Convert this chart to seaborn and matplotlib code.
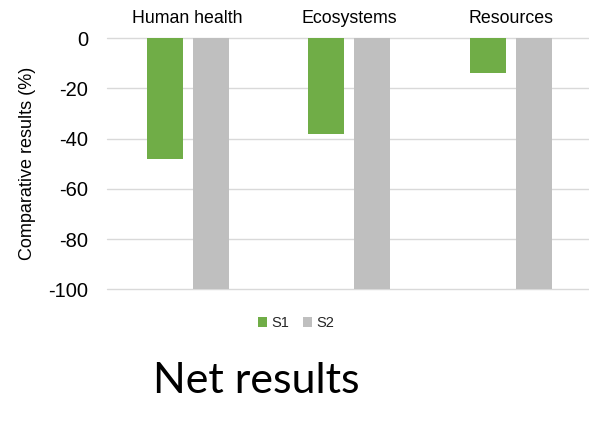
import matplotlib
matplotlib.use("Agg")
import matplotlib.pyplot as plt
from matplotlib.patches import Patch
import seaborn as sns
import pandas as pd

# Comparative impact results by endpoint category
categories = ["Human health", "Ecosystems", "Resources"]
s1_values = [-48, -38, -14]
s2_values = [-100, -100, -100]
series_names = ["S1", "S2"]
y_ticks = [0, -20, -40, -60, -80, -100]

colors = {"S1": "#70AD47", "S2": "#BFBFBF"}
grid_color = "#D9D9D9"

df = pd.DataFrame({
    "category": categories * 2,
    "series": ["S1"] * len(categories) + ["S2"] * len(categories),
    "value": s1_values + s2_values,
})

sns.set_theme(style="white")
plt.rcParams["font.family"] = ["Liberation Sans", "DejaVu Sans"]

W, H = 589, 423
fig = plt.figure(figsize=(W / 100, H / 100), dpi=100)
ax = fig.add_axes([107 / W, 1 - 289.3 / H, 484.5 / W, 251 / H])

sns.barplot(
    data=df, x="category", y="value", hue="series",
    order=categories, hue_order=series_names, palette=colors,
    saturation=1, width=0.57, gap=0.217, ax=ax, legend=False,
    edgecolor="none", linewidth=0, zorder=3,
)

ax.set_ylim(-100, 0)
ax.set_yticks(y_ticks)
ax.set_yticklabels([str(v) for v in y_ticks])
ax.set_xlim(-0.5, len(categories) - 0.5)

# horizontal gridlines
ax.grid(False)
for sp in ax.spines.values():
    sp.set_visible(False)
for v in y_ticks:
    ax.axhline(v, color=grid_color, linewidth=1.0, zorder=1, clip_on=False)

# category labels along the top
ax.xaxis.tick_top()
ax.set_xlabel("")
ax.tick_params(axis="x", length=0, pad=8, labelsize=12.8, colors="black")
ax.tick_params(axis="y", length=0, pad=13.5, labelsize=14.5, colors="black")

ax.set_ylabel("")
fig.text(28 / W, 1 - 163.5 / H, "Comparative results (%)", rotation=90,
         ha="center", va="center", fontsize=13, color="black")

handles = [Patch(facecolor=colors[s], edgecolor="none", label=s) for s in series_names]
fig.legend(
    handles=handles, loc="center", bbox_to_anchor=(296 / W, 1 - 323 / H),
    ncol=2, frameon=False, fontsize=10.5, handlelength=0.65, handleheight=0.65,
    handletextpad=0.3, columnspacing=0.9,
)

fig.text(256.5 / W, 1 - 381 / H, "Net results", ha="center", va="center",
         fontsize=31, family=["Lato", "DejaVu Sans"], color="black")

fig.savefig("out.png", dpi=100)
